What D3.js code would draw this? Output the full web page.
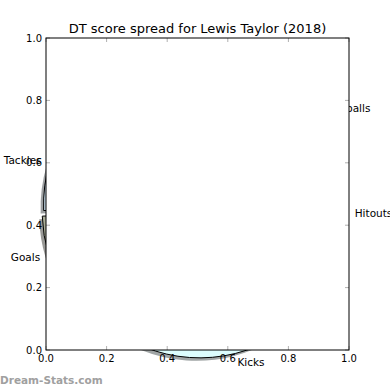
<!DOCTYPE html>
<html>
<head>
<meta charset="utf-8">
<script src="https://cdn.jsdelivr.net/npm/d3@7"></script>
<style>
  body { margin: 0; background: #fff; }
  svg { display: block; font-family: "DejaVu Sans", sans-serif; }
</style>
</head>
<body>
<div id="chart"></div>
<script>
// slices, counter-clockwise from 3 o'clock like matplotlib
const categories = ["Handballs", "Marks", "Tackles", "Goals", "Kicks", "Hitouts"];
const scores = [80, 64, 38, 30, 144, 4];
const sliceColors = ["#f5deb3", "#ffe4e1", "#c6dbe8", "#a9ad98", "#dcfdfd", "#e6e6fa"];
const explodeBy = [0, 0, 0.06, 0.07, 0.02, 0];
const tickValues = [0, 0.2, 0.4, 0.6, 0.8, 1.0];

const width = 390, height = 390;
const marginLeft = 46, marginRight = 41, marginTop = 38, marginBottom = 40;

const svg = d3.select("#chart")
    .append("svg")
    .attr("width", width)
    .attr("height", height);

const x = d3.scaleLinear().domain([0, 1]).range([marginLeft, width - marginRight]);
const y = d3.scaleLinear().domain([0, 1]).range([height - marginBottom, marginTop]);

// pie sits behind the axes background, only the edges poke out
const cx = 199, cy = 208, radius = 147, labelDistance = 1.06;

const data = categories.map((c, i) => ({ name: c, value: scores[i], color: sliceColors[i], explode: explodeBy[i] }));

const pie = d3.pie()
    .value(d => d.value)
    .sort(null)
    .startAngle(Math.PI / 2)
    .endAngle(Math.PI / 2 - 2 * Math.PI);

const arc = d3.arc().innerRadius(0).outerRadius(radius);
const slices = pie(data);

function offset(d) {
    const mid = (d.startAngle + d.endAngle) / 2;
    return [Math.sin(mid), -Math.cos(mid)];
}

const pieGroup = svg.append("g").attr("transform", `translate(${cx},${cy})`);

// shadows
pieGroup.selectAll("path.shadow")
    .data(slices)
    .enter()
    .append("path")
    .attr("class", "shadow")
    .attr("transform", d => {
        const [dx, dy] = offset(d);
        const e = d.data.explode * radius;
        return `translate(${dx * e - 3},${dy * e + 3})`;
    })
    .attr("d", arc)
    .attr("fill", d => {
        const c = d3.rgb(d.data.color);
        return d3.rgb(c.r * 0.3, c.g * 0.3, c.b * 0.3);
    })
    .attr("opacity", 0.5);

// wedges
pieGroup.selectAll("path.wedge")
    .data(slices)
    .enter()
    .append("path")
    .attr("class", "wedge")
    .attr("transform", d => {
        const [dx, dy] = offset(d);
        const e = d.data.explode * radius;
        return `translate(${dx * e},${dy * e})`;
    })
    .attr("d", arc)
    .attr("fill", d => d.data.color)
    .attr("stroke", "#000")
    .attr("stroke-width", 1);

// slice labels
pieGroup.selectAll("text")
    .data(slices)
    .enter()
    .append("text")
    .attr("x", d => {
        const [dx] = offset(d);
        return dx * (d.data.explode * radius + radius * labelDistance);
    })
    .attr("y", d => {
        const [, dy] = offset(d);
        return dy * (d.data.explode * radius + radius * labelDistance);
    })
    .attr("text-anchor", d => offset(d)[0] > 0 ? "start" : "end")
    .attr("dominant-baseline", "central")
    .style("font-size", "10.5px")
    .text(d => d.data.name);

// axes background covers the pie
svg.append("rect")
    .attr("x", x(0))
    .attr("y", y(1))
    .attr("width", x(1) - x(0))
    .attr("height", y(0) - y(1))
    .attr("fill", "#fff");

// ticks (inside, on all four sides)
const tickGroup = svg.append("g").attr("stroke", "#b0b0b0").attr("stroke-width", 1);
tickValues.forEach(v => {
    tickGroup.append("line").attr("x1", x(v)).attr("x2", x(v)).attr("y1", y(0)).attr("y2", y(0) - 4);
    tickGroup.append("line").attr("x1", x(v)).attr("x2", x(v)).attr("y1", y(1)).attr("y2", y(1) + 4);
    tickGroup.append("line").attr("y1", y(v)).attr("y2", y(v)).attr("x1", x(0)).attr("x2", x(0) + 4);
    tickGroup.append("line").attr("y1", y(v)).attr("y2", y(v)).attr("x1", x(1)).attr("x2", x(1) - 4);
});

// frame
svg.append("rect")
    .attr("x", x(0))
    .attr("y", y(1))
    .attr("width", x(1) - x(0))
    .attr("height", y(0) - y(1))
    .attr("fill", "none")
    .attr("stroke", "#000")
    .attr("stroke-width", 1);

// tick labels
svg.append("g").selectAll("text")
    .data(tickValues)
    .enter()
    .append("text")
    .attr("x", d => x(d))
    .attr("y", y(0) + 12)
    .attr("text-anchor", "middle")
    .style("font-size", "10px")
    .text(d => d3.format(".1f")(d));

svg.append("g").selectAll("text")
    .data(tickValues)
    .enter()
    .append("text")
    .attr("x", x(0) - 4)
    .attr("y", d => y(d))
    .attr("dy", "0.35em")
    .attr("text-anchor", "end")
    .style("font-size", "10px")
    .text(d => d3.format(".1f")(d));

// title
svg.append("text")
    .attr("x", (x(0) + x(1)) / 2)
    .attr("y", y(1) - 5)
    .attr("text-anchor", "middle")
    .style("font-size", "13px")
    .text("DT score spread for Lewis Taylor (2018)");

// watermark
svg.append("text")
    .attr("x", 0)
    .attr("y", 384)
    .style("font-size", "10.5px")
    .style("font-weight", "bold")
    .attr("fill", "#a0a0a0")
    .text("Dream-Stats.com");
</script>
</body>
</html>
